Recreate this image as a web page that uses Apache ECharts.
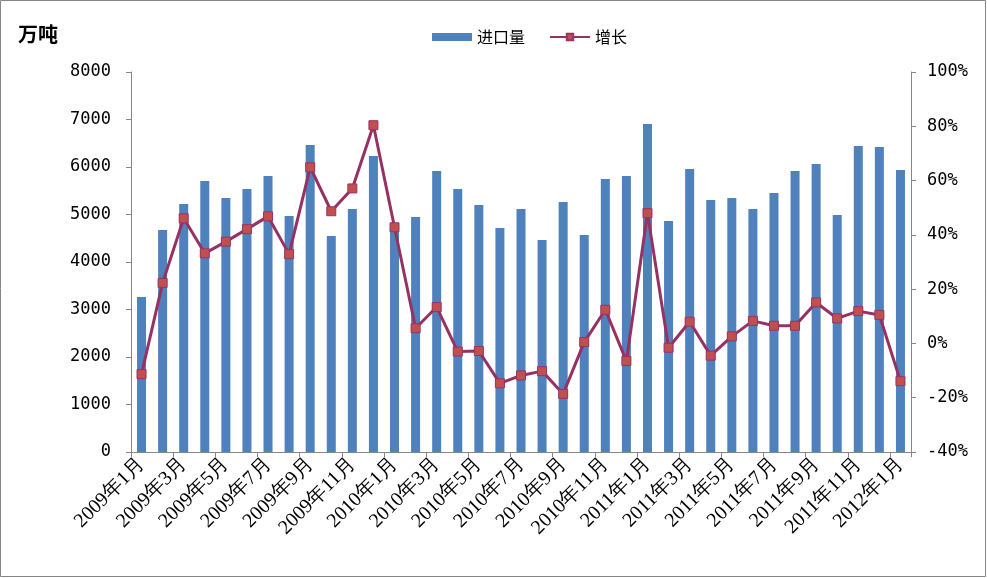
<!DOCTYPE html>
<html>
<head>
<meta charset="utf-8">
<script src="https://cdn.jsdelivr.net/npm/echarts@6/dist/echarts.min.js"></script>
<style>
html,body{margin:0;padding:0;background:#fff;}
#c{width:987px;height:578px;}
</style>
</head>
<body>
<div id="c"></div>
<script>
var categories = [
 '2009年1月','2009年2月','2009年3月','2009年4月','2009年5月','2009年6月','2009年7月','2009年8月','2009年9月','2009年10月','2009年11月','2009年12月',
 '2010年1月','2010年2月','2010年3月','2010年4月','2010年5月','2010年6月','2010年7月','2010年8月','2010年9月','2010年10月','2010年11月','2010年12月',
 '2011年1月','2011年2月','2011年3月','2011年4月','2011年5月','2011年6月','2011年7月','2011年8月','2011年9月','2011年10月','2011年11月','2011年12月',
 '2012年1月'
];
var importVolume = [
 3263,4674,5221,5705,5347,5537,5811,4968,6463,4547,5116,6232,
 4730,4947,5916,5537,5200,4716,5116,4463,5263,4568,5747,5811,
 6905,4863,5958,5305,5347,5116,5453,5916,6063,4989,6442,6421,
 5937
];
var growth = [
 -11.3,22.3,46.1,33.2,37.5,42.1,46.8,32.9,64.9,48.7,57.1,80.4,
 42.8,5.6,13.4,-3.0,-2.8,-14.7,-11.8,-10.2,-18.6,0.5,12.4,-6.5,
 48.0,-1.6,8.0,-4.5,2.6,8.3,6.5,6.5,15.1,9.2,11.9,10.5,
 -13.9
];
var leftTicks = {min:0, max:8000, interval:1000};
var rightTicks = {min:-40, max:100, interval:20};

var chart = echarts.init(document.getElementById('c'), null, {renderer:'canvas'});
var axisColor = '#868686';
var numFont = '"DejaVu Sans Mono", monospace';
var catFont = 'Liberation Serif';
chart.setOption({
  animation:false,
  backgroundColor:'#fff',
  graphic:[{type:'rect', shape:{x:0.5,y:0.5,width:985,height:576}, style:{fill:'none', stroke:'#868686', lineWidth:1}, silent:true}],
  title:{text:'万吨', left:13, top:19, textStyle:{fontSize:20, fontWeight:'bold', color:'#000', fontFamily:'"Noto Sans CJK SC", sans-serif'}},
  legend:{
    top:24, left:427, itemGap:24,
    textStyle:{fontSize:16, color:'#000', fontFamily:'"Noto Sans CJK SC", sans-serif'},
    data:[
      {name:'进口量', icon:'rect', itemStyle:{color:'#4F81BD'}},
      {name:'增长'}
    ],
    itemWidth:40, itemHeight:8
  },
  grid:{left:131, right:76, top:72, bottom:126},
  xAxis:{
    type:'category', data:categories, boundaryGap:true,
    axisLine:{lineStyle:{color:axisColor, width:1}},
    axisTick:{show:true, interval:1, length:5, lineStyle:{color:axisColor}},
    axisLabel:{interval:1, rotate:45, fontSize:20, color:'#000', fontFamily:catFont, fontWeight:'normal', margin:9}
  },
  yAxis:[
    {type:'value', min:leftTicks.min, max:leftTicks.max, interval:leftTicks.interval,
     axisLine:{show:true, lineStyle:{color:axisColor}},
     axisTick:{show:true, length:5, lineStyle:{color:axisColor}},
     splitLine:{show:false},
     axisLabel:{fontSize:17, color:'#000', fontFamily:numFont, margin:20, formatter:function(v){return String(v);}}},
    {type:'value', min:rightTicks.min, max:rightTicks.max, interval:rightTicks.interval,
     axisLine:{show:true, lineStyle:{color:axisColor}},
     axisTick:{show:true, length:5, lineStyle:{color:axisColor}},
     splitLine:{show:false},
     axisLabel:{fontSize:17, color:'#000', fontFamily:numFont, margin:16, formatter:'{value}%'}}
  ],
  series:[
    {name:'进口量', type:'bar', data:importVolume, barWidth:9, itemStyle:{color:'#4F81BD'}, yAxisIndex:0},
    {name:'增长', type:'line', data:growth, yAxisIndex:1, symbol:'rect', symbolSize:9,
     lineStyle:{color:'#953163', width:3},
     itemStyle:{color:'#C0504D', borderColor:'#993366', borderWidth:1}}
  ]
});
</script>
</body>
</html>
